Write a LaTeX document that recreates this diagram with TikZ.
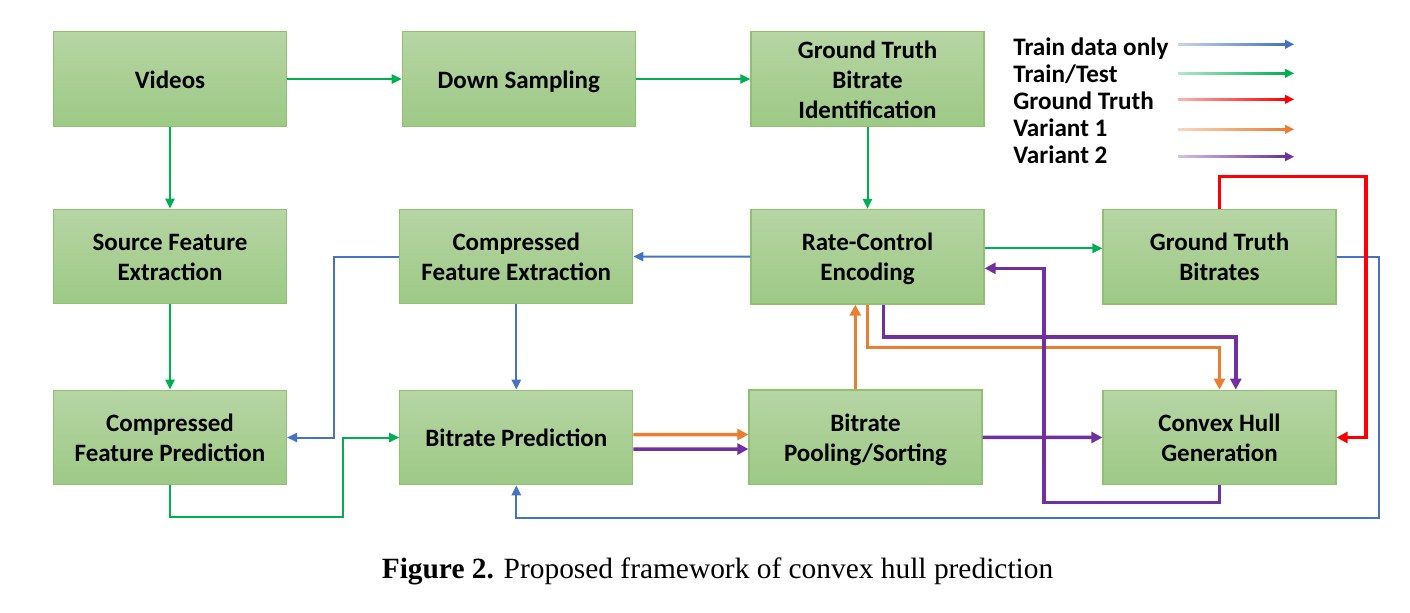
\documentclass[tikz,border=0pt]{standalone}
\usepackage{fontspec}
\setmainfont{Carlito}
\newfontfamily\capfont{Liberation Serif}
\usetikzlibrary{arrows.meta,calc,positioning}
\definecolor{boxtop}{RGB}{182,213,164}
\definecolor{boxbot}{RGB}{157,201,133}
\definecolor{boxline}{RGB}{143,194,112}
\definecolor{gline}{RGB}{0,176,80}
\definecolor{bline}{RGB}{68,114,196}
\definecolor{rline}{RGB}{255,0,0}
\definecolor{oline}{RGB}{237,125,49}
\definecolor{pline}{RGB}{112,48,160}
\tikzset{block/.style={draw=boxline, line width=0.6pt, top color=boxtop, bottom color=boxbot,
    minimum width=116.5pt, minimum height=47.3pt, inner sep=0pt, align=center,
    font=\bfseries\fontsize{12.5}{15}\selectfont, text height=13pt, text depth=3.8pt},
  two/.style={text height=28pt},
  three/.style={text height=43pt},
  thin/.style={line width=1pt, >={Triangle[length=5pt,width=4.6pt]}},
  thick/.style={line width=1.75pt, >={Triangle[length=5.5pt,width=5.5pt]}},
  keytext/.style={anchor=base west, inner sep=0pt, font=\bfseries\fontsize{12.6}{15}\selectfont}}

\begin{document}
\begin{tikzpicture}[x=0.5pt, y=-0.5pt]
	\useasboundingbox (0,0) rectangle (1410,612);
	% boxes
	\node [block] (videos) at (170, 79) {Videos};
	\node [block] (down) at (518.8, 79) {Down Sampling};
	\node [block, three] (gtbi) at (867.5, 79) {Ground Truth\\Bitrate\\Identification};
	\node [block, two] (sfe) at (170, 256.5) {Source Feature\\Extraction};
	\node [block, two] (cfe) at (516.3, 256.5) {Compressed\\Feature Extraction};
	\node [block, two] (rce) at (867.5, 256.7) {Rate-Control\\Encoding};
	\node [block, two] (gtb) at (1219.5, 256.7) {Ground Truth\\Bitrates};
	\node [block, two] (cfp) at (170, 437.5) {Compressed\\Feature Prediction};
	\node [block] (bp) at (516.3, 437.5) {Bitrate Prediction};
	\node [block, two] (bps) at (865.5, 437.3) {Bitrate\\Pooling/Sorting};
	\node [block, two] (ch) at (1219.5, 437.5) {Convex Hull\\Generation};
	% legend
	\node [keytext] (k1) at (1013, 55.5) {Train data only};
	\node [keytext] (k2) at (1013, 82.5) {Train/Test};
	\node [keytext] (k3) at (1013, 109.5) {Ground Truth};
	\node [keytext] (k4) at (1013, 136.5) {Variant 1};
	\node [keytext] (k5) at (1013, 163.5) {Variant 2};
	\foreach \y/\c in {44.3/bline, 73.3/gline, 99.3/rline, 129.3/oline, 156.7/pline} {
		\shade [left color=\c!30, right color=\c] (1178, \y-0.8) rectangle (1286, \y+0.8);
		\fill [\c] (1285, \y-4.6) -- (1294, \y) -- (1285, \y+4.6) -- cycle;
	}
	% train/test
	\draw [thin, gline, ->] (videos) to (down);
	\draw [thin, gline, ->] (down) to (gtbi);
	\draw [thin, gline, ->] (gtbi) to (rce);
	\draw [thin, gline, ->] (videos) to (sfe);
	\draw [thin, gline, ->] (sfe) to (cfp);
	\draw [thin, gline, ->] ($(rce.east)+(0,-8.4)$) to ($(gtb.west)+(0,-8.4)$);
	\draw [thin, gline, ->] (cfp.south) |- (343.3, 517) |- (bp.west);
	% train data only
	\draw [thin, bline, ->] (rce) to (cfe);
	\draw [thin, bline, ->] (cfe) to (bp);
	\draw [thin, bline, ->] (cfe.west) -| (334.4, 437.5) to (cfp.east);
	\draw [thin, bline, ->] (gtb.east) -| (1379.3, 517.7) -| (bp.south);
	% ground truth
	\draw [thick, rline, ->] (gtb.north) |- (1366, 176.7) |- (ch.east);
	% variant 1
	\draw [thick, oline, ->] ($(bp.east)+(0,-2.8)$) to ($(bps.west)+(0,-2.8)$);
	\draw [thick, oline, ->] ($(bps.north)+(-10.2,0)$) to ($(rce.south)+(-12.2,0)$);
	\draw [thick, oline, ->] (rce.south) -- ++(0,43) -| (ch.north);
	% variant 2
	\draw [thick, pline, ->] ($(bp.east)+(0,11.5)$) to ($(bps.west)+(0,11.7)$);
	\draw [thick, pline, ->] (bps.east) to (ch.west);
	\draw [thick, pline, ->] ($(rce.south)+(16,0)$) -- ++(0,32.4) -| ($(ch.north)+(16.3,0)$);
	\draw [thick, pline, ->] (ch.south) |- (1044.2, 502.7) |- ($(rce.east)+(0,11.6)$);
	% caption
	\node [anchor=base, inner sep=0pt, font=\capfont\fontsize{14.7}{17}\selectfont] (cap) at (717.5, 578) {\textbf{Figure 2.} Proposed framework of convex hull prediction};
\end{tikzpicture}
\end{document}
